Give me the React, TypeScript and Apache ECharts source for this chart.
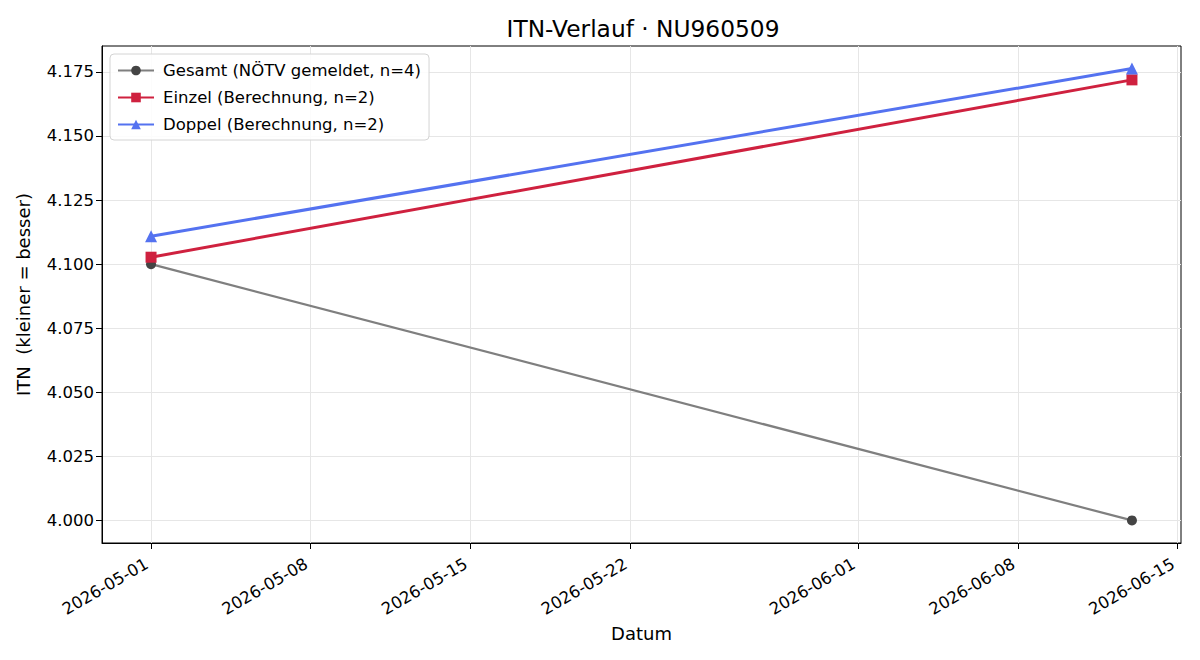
import React, { useEffect, useRef } from "react";
import * as echarts from "echarts";

const dates = ["2026-05-01", "2026-06-13"];
const gesamt = [4.1, 4.0];
const einzel = [4.1027, 4.1719];
const doppel = [4.1109, 4.1763];
const xTickDates = ["2026-05-01", "2026-05-08", "2026-05-15", "2026-05-22", "2026-06-01", "2026-06-08", "2026-06-15"];
const yTicks = [4.0, 4.025, 4.05, 4.075, 4.1, 4.125, 4.15, 4.175];

const ts = (d: string) => Date.parse(d + "T00:00:00Z");
const fmtDate = (v: number) => new Date(v).toISOString().slice(0, 10);
const FONT = "DejaVu Sans";

export default function App() {
  const ref = useRef<HTMLDivElement>(null);
  useEffect(() => {
    if (!ref.current) return;
    const chart = echarts.init(ref.current, null, { renderer: "svg" });
    const xs = dates.map(ts);
    const span = xs[1] - xs[0];
    const allY = [...gesamt, ...einzel, ...doppel];
    const yMin = Math.min(...allY);
    const yMax = Math.max(...allY);
    const yPad = (yMax - yMin) * 0.05;
    const xTicks = xTickDates.map(ts);
    const mk = (arr: number[]) => arr.map((v, i) => [xs[i], v]);
    chart.setOption({
      animation: false,
      backgroundColor: "#ffffff",
      textStyle: { fontFamily: FONT },
      title: {
        text: "ITN-Verlauf · NU960509",
        left: 638,
        textAlign: "center",
        top: 12,
        textStyle: { fontFamily: FONT, fontSize: 23.3, fontWeight: "normal", color: "#000" },
      },
      grid: {
        left: 102,
        right: 19,
        top: 46,
        bottom: 117,
        show: true,
        borderColor: "#000",
        borderWidth: 1,
        backgroundColor: "transparent",
      },
      legend: {
        orient: "vertical",
        left: 110,
        top: 54,
        backgroundColor: "rgba(255,255,255,0.85)",
        borderColor: "#d4d4d4",
        borderWidth: 1,
        borderRadius: 4,
        padding: [8, 8, 7, 7],
        itemWidth: 36,
        itemHeight: 12,
        itemGap: 10,
        textStyle: { fontFamily: FONT, fontSize: 16.5, color: "#000", padding: [0, 0, 0, 4] },
        data: ["Gesamt (NÖTV gemeldet, n=4)", "Einzel (Berechnung, n=2)", "Doppel (Berechnung, n=2)"],
      },
      xAxis: {
        type: "value",
        min: xs[0] - span * 0.05,
        max: xs[1] + span * 0.05,
        name: "Datum",
        nameLocation: "middle",
        nameGap: 81,
        nameTextStyle: { fontFamily: FONT, fontSize: 18, color: "#000" },
        axisLine: { show: true, onZero: false, lineStyle: { color: "#000", width: 1 } },
        axisTick: { show: true, length: 6, customValues: xTicks, lineStyle: { color: "#000" } },
        axisLabel: {
          customValues: xTicks,
          rotate: 30,
          margin: 17,
          padding: [0, 5, 0, 0],
          fontFamily: FONT,
          fontSize: 16.5,
          color: "#000",
          formatter: (v: number) => fmtDate(v),
        },
        splitLine: { show: true, lineStyle: { color: "#e6e6e6", width: 1 } },
      },
      yAxis: {
        type: "value",
        min: yMin - yPad,
        max: yMax + yPad,
        name: "ITN  (kleiner = besser)",
        nameLocation: "middle",
        nameGap: 70,
        nameTextStyle: { fontFamily: FONT, fontSize: 18, color: "#000" },
        axisLine: { show: true, lineStyle: { color: "#000", width: 1 } },
        axisTick: { show: true, length: 6, customValues: yTicks, lineStyle: { color: "#000" } },
        axisLabel: {
          customValues: yTicks,
          margin: 8,
          fontFamily: FONT,
          fontSize: 16.5,
          color: "#000",
          formatter: (v: number) => v.toFixed(3),
        },
        splitLine: { show: true, lineStyle: { color: "#e6e6e6", width: 1 } },
      },
      series: [
        {
          name: "Gesamt (NÖTV gemeldet, n=4)",
          type: "line",
          data: mk(gesamt),
          symbol: "circle",
          symbolSize: 10,
          lineStyle: { color: "#7f7f7f", width: 2.2 },
          itemStyle: { color: "#444444" },
        },
        {
          name: "Einzel (Berechnung, n=2)",
          type: "line",
          data: mk(einzel),
          symbol: "rect",
          symbolSize: 11,
          lineStyle: { color: "#cf213f", width: 3 },
          itemStyle: { color: "#cf213f" },
        },
        {
          name: "Doppel (Berechnung, n=2)",
          type: "line",
          data: mk(doppel),
          symbol: "triangle",
          symbolSize: 12,
          lineStyle: { color: "#5472f0", width: 3 },
          itemStyle: { color: "#5472f0" },
        },
      ],
    });
    return () => chart.dispose();
  }, []);
  return <div ref={ref} style={{ width: 1200, height: 660, position: "absolute", left: 0, top: 0 }} />;
}
